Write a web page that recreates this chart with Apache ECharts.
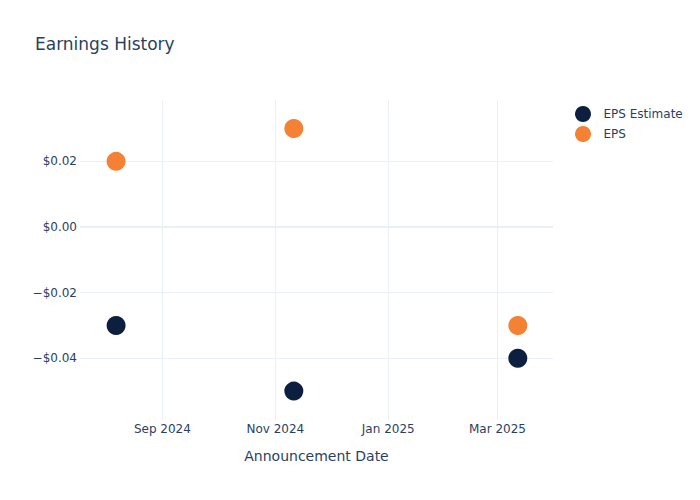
<!DOCTYPE html>
<html><head><meta charset="utf-8">
<script src="https://cdn.jsdelivr.net/npm/echarts@6/dist/echarts.min.js"></script>
<style>html,body{margin:0;padding:0;background:#fff}#c{width:700px;height:500px}</style>
</head><body><div id="c"></div>
<script>
const dates = ['2024-08-07', '2024-11-11', '2025-03-12'];
const epsEstimate = [-0.03, -0.05, -0.04];
const eps = [0.02, 0.03, -0.03];
const xTicks = ['2024-09-01', '2024-11-01', '2025-01-01', '2025-03-01'];
const xTickLabels = ['Sep 2024', 'Nov 2024', 'Jan 2025', 'Mar 2025'];
const yTicks = [-0.04, -0.02, 0, 0.02];

const txt = '#2a3f5f';
const font = '"DejaVu Sans", sans-serif';
const DAY = 86400000;
const ts = d => new Date(d + 'T00:00:00Z').getTime();
const xTickTs = xTicks.map(ts);
const fmtY = v => (v < 0 ? '\u2212' : '') + '$' + Math.abs(v).toFixed(2);

const chart = echarts.init(document.getElementById('c'), null, {renderer: 'svg'});
chart.setOption({
  backgroundColor: '#fff',
  animation: false,
  textStyle: {fontFamily: font},
  title: {text: 'Earnings History', left: 30, top: 30,
    textStyle: {color: txt, fontSize: 17, fontWeight: 'normal', fontFamily: font}},
  legend: {orient: 'vertical', left: 570, top: 101, itemGap: 4, itemWidth: 31, itemHeight: 16,
    icon: 'circle', textStyle: {color: txt, fontSize: 12, fontFamily: font},
    data: ['EPS Estimate', 'EPS']},
  grid: {left: 80, right: 147, top: 100, bottom: 80, containLabel: false},
  xAxis: {
    type: 'value',
    min: ts('2024-07-19') - 0.5 * DAY,
    max: ts('2025-03-31'),
    name: 'Announcement Date', nameLocation: 'middle', nameGap: 29,
    nameTextStyle: {color: txt, fontSize: 14, fontFamily: font},
    axisLine: {show: false}, axisTick: {show: false, customValues: xTickTs},
    axisLabel: {color: txt, fontSize: 12, margin: 3, customValues: xTickTs,
      formatter: v => { const i = xTickTs.indexOf(v); return i >= 0 ? xTickLabels[i] : ''; }},
    splitLine: {show: true, lineStyle: {color: '#ebf0f8', width: 1}}
  },
  yAxis: {
    type: 'value', min: -0.0588, max: 0.0387,
    axisLine: {show: false}, axisTick: {show: false, customValues: yTicks},
    axisLabel: {color: txt, fontSize: 12, margin: 3, customValues: yTicks, formatter: fmtY},
    splitLine: {show: true, lineStyle: {color: '#ebf0f8', width: 1}}
  },
  series: [
    {name: 'EPS Estimate', type: 'scatter', symbolSize: 19,
      itemStyle: {color: '#0d1f3f', opacity: 1},
      data: dates.map((d, i) => [ts(d), epsEstimate[i]]),
      markLine: {silent: true, symbol: 'none', label: {show: false},
        lineStyle: {color: '#ebf0f8', width: 2, type: 'solid'}, data: [{yAxis: 0}]}},
    {name: 'EPS', type: 'scatter', symbolSize: 19,
      itemStyle: {color: '#f58134', opacity: 1},
      data: dates.map((d, i) => [ts(d), eps[i]])}
  ]
});
</script></body></html>
